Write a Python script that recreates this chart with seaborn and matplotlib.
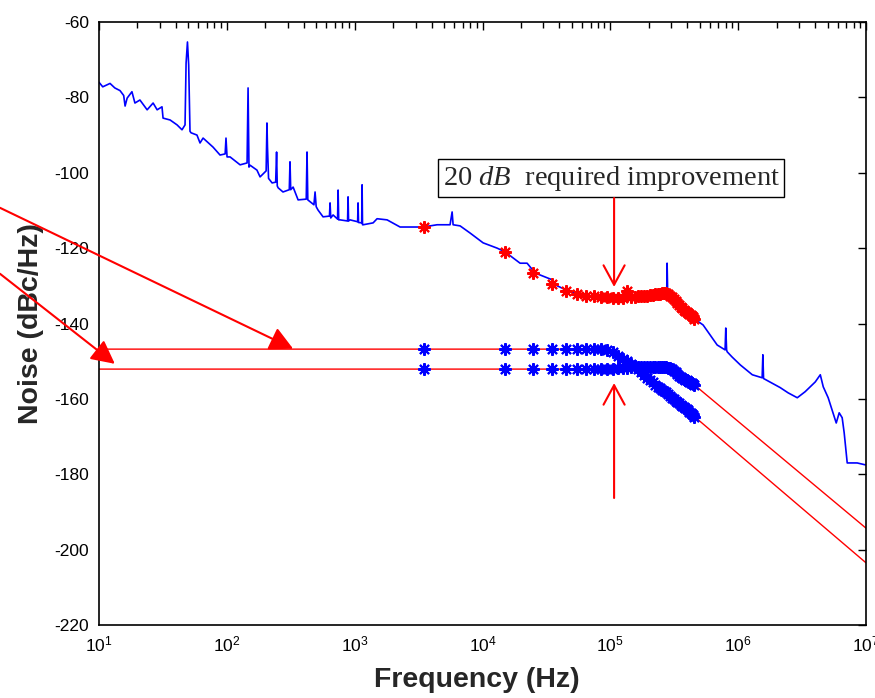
import numpy as np
import pandas as pd
import matplotlib
matplotlib.use("Agg")
import matplotlib.pyplot as plt
import seaborn as sns
from matplotlib.ticker import FuncFormatter, LogLocator, NullFormatter, FixedLocator

sns.set_theme(style="white")
plt.rcParams['font.family'] = ['Liberation Sans', 'DejaVu Sans']
plt.rcParams['axes.unicode_minus'] = False
plt.rcParams['mathtext.fontset'] = 'custom'
plt.rcParams['mathtext.it'] = 'Liberation Serif:italic'
plt.rcParams['mathtext.rm'] = 'Liberation Serif'

# ---------------- data ----------------
noise_freq = [10.0, 10.7, 12.2, 13.3, 14.6, 15.6, 16.0, 16.6, 18.1, 19.1, 20.9, 23.8, 26.5, 28.5,
              31.1, 31.7, 36.0, 40.8, 44.6, 47.1, 48.0, 49.2, 50.3, 51.5, 52.5, 58.4, 61.7, 65.2,
              78.0, 88.5, 97.0, 98.5, 100.4, 106, 127, 144, 146.6, 149, 152, 172, 182, 199, 203,
              206, 208, 212, 226, 241, 245, 248, 252, 275, 308, 312, 316, 330, 361, 418, 424, 430,
              480, 490, 500, 517, 566, 635, 642, 650, 678, 735, 742, 750, 769, 880, 888, 896, 920,
              1055, 1063, 1072, 1135, 1143, 1152, 1165, 1394, 1497, 1793, 2266, 2864, 3428, 4415,
              5575, 5785, 5890, 6680, 8000, 10110, 13010, 15030, 19680, 22330, 25800, 35080,
              38380, 48460, 61210, 83180, 113000, 137700, 150700, 204700, 258800, 276000,
              278000, 281000, 283000, 333000, 399000, 444500, 532000, 685000, 764000, 790000,
              800000, 812000, 820000, 897000, 1.04e6, 1.29e6, 1.54e6, 1.56e6, 1.58e6, 1.66e6,
              2.13e6, 2.46e6, 2.90e6, 3.34e6, 4.01e6, 4.39e6, 4.63e6, 5.06e6, 5.85e6, 6.17e6,
              6.51e6, 6.75e6, 7.13e6, 8.53e6, 9.86e6]
noise_db = [-76.0, -77.2, -76.3, -77.5, -78.2, -79.5, -82.3, -80.2, -78.5, -81.5, -80.7, -83.3,
            -81.5, -83.3, -82.5, -85.5, -86.0, -87.3, -88.6, -87.3, -70.9, -65.3, -71.4, -89.0,
            -89.4, -90.0, -92.1, -90.8, -93.2, -95.3, -95.0, -90.8, -95.8, -95.8, -97.9, -97.4,
            -77.5, -98.5, -98.0, -99.3, -101.1, -99.8, -99.5, -86.8, -93.2, -101.5, -102.7,
            -102.5, -94.5, -103.5, -104.0, -105.1, -104.5, -97.1, -104.5, -103.8, -107.2,
            -107.0, -94.5, -107.2, -108.5, -105.1, -109.0, -109.9, -111.7, -111.5, -108.0,
            -112.0, -111.2, -112.3, -104.6, -112.5, -112.5, -112.8, -106.4, -112.8, -112.5,
            -113.0, -108.0, -113.2, -113.3, -103.2, -113.8, -113.8, -113.3, -112.2, -112.5,
            -114.4, -114.4, -114.4, -113.8, -113.8, -110.4, -113.8, -114.1, -116.0, -118.6,
            -120.0, -121.0, -124.0, -124.0, -126.6, -128.4, -130.0, -131.6, -132.4, -133.0,
            -133.2, -131.8, -132.8, -132.7, -132.1, -132.0, -124.0, -132.0, -132.5, -134.3,
            -137.0, -138.5, -140.4, -145.7, -146.7, -147.0, -141.2, -147.0, -147.5, -148.9,
            -151.0, -153.6, -154.4, -148.3, -154.6, -155.0, -157.0, -158.4, -159.7, -158.1,
            -155.5, -153.6, -156.8, -159.7, -166.4, -163.7, -165.0, -169.0, -177.0, -177.0,
            -177.5]

star_freq_khz = [3.5, 15, 25, 35, 45, 55, 65, 75, 85, 95, 105, 115, 125, 135, 145, 155, 165,
                 175, 185, 195, 205, 215, 225, 235, 245, 255, 265, 275, 285, 295, 305, 315, 325,
                 335, 345, 355, 365, 375, 385, 395, 405, 415, 425, 435, 445, 455]
marked_db = [-114.4, -121.0, -126.5, -129.6, -131.5, -132.2, -132.6, -132.8, -133.0, -133.1,
             -133.2, -133.2, -133.2, -131.5, -133.0, -132.9, -132.8, -132.7, -132.6, -132.6,
             -132.5, -132.4, -132.3, -132.2, -132.1, -132.0, -132.0, -132.0, -132.2, -132.6,
             -133.1, -133.6, -134.1, -134.6, -135.1, -135.5, -135.9, -136.3, -136.6, -136.9,
             -137.2, -137.5, -137.8, -138.1, -138.4, -138.7]
target_a_db = [-146.8, -146.8, -146.8, -146.8, -146.8, -146.8, -146.8, -146.8, -146.8, -147.0,
               -147.6, -148.5, -149.3, -150.0, -150.7, -151.4, -152.2, -152.9, -153.7, -154.4,
               -155.0, -155.5, -156.2, -156.8, -157.2, -157.7, -158.0, -158.3, -158.7, -159.2,
               -159.7, -160.1, -160.5, -160.8, -161.1, -161.5, -161.8, -162.1, -162.4, -162.7,
               -163.0, -163.4, -163.8, -164.1, -164.4, -164.7]
target_b_db = [-152.1, -152.1, -152.1, -152.1, -152.1, -152.1, -152.1, -152.1, -152.1, -152.1,
               -152.0, -151.9, -151.8, -151.7, -151.6, -151.6, -151.6, -151.6, -151.6, -151.6,
               -151.6, -151.6, -151.6, -151.6, -151.6, -151.6, -151.6, -151.6, -151.7, -151.9,
               -152.2, -152.6, -153.0, -153.4, -153.8, -154.1, -154.4, -154.7, -154.9, -155.1,
               -155.3, -155.5, -155.7, -155.9, -156.1, -156.3]
line_end_freq = [10, 1e7]
target_a_ends = [-146.8, -203.5]
target_b_ends = [-152.1, -194.3]

x_ticks = [1e1, 1e2, 1e3, 1e4, 1e5, 1e6, 1e7]
y_ticks = [-220, -200, -180, -160, -140, -120, -100, -80, -60]

# ---------------- tables ----------------
star_freq = [f * 1000 for f in star_freq_khz]
noise = pd.DataFrame({"f": noise_freq, "db": noise_db})
marked = pd.DataFrame({"f": star_freq, "db": marked_db})
tgt_a = pd.DataFrame({"f": star_freq, "db": target_a_db})
tgt_b = pd.DataFrame({"f": star_freq, "db": target_b_db})
line_a = pd.DataFrame({"f": [line_end_freq[0]] + star_freq + [line_end_freq[1]],
                       "db": [target_a_ends[0]] + target_a_db + [target_a_ends[1]]})
line_b = pd.DataFrame({"f": [line_end_freq[0]] + star_freq + [line_end_freq[1]],
                       "db": [target_b_ends[0]] + target_b_db + [target_b_ends[1]]})

fig = plt.figure(figsize=(8.75, 6.98), dpi=100)
ax = fig.add_axes([99 / 875, 1 - 625 / 698, 767 / 875, 603 / 698])
ax.set_xscale("log")

star = (8, 2, 0)
sns.lineplot(data=line_a, x="f", y="db", ax=ax, sort=False, estimator=None,
             color="red", linewidth=1.0)
sns.lineplot(data=line_b, x="f", y="db", ax=ax, sort=False, estimator=None,
             color="red", linewidth=1.0)
for d in (tgt_a, tgt_b):
    sns.lineplot(data=d, x="f", y="db", ax=ax, sort=False, estimator=None,
                 linestyle="none", marker=star, markersize=9, markeredgewidth=1.5,
                 markeredgecolor="blue", color="blue")
sns.lineplot(data=noise, x="f", y="db", ax=ax, sort=False, estimator=None,
             color="blue", linewidth=1.2)
sns.lineplot(data=marked, x="f", y="db", ax=ax, sort=False, estimator=None,
             linestyle="none", marker=star, markersize=9, markeredgewidth=1.5,
             markeredgecolor="red", color="red")

ax.set_xlim(10, 1e7)
ax.set_ylim(-220, -60)
ax.xaxis.set_major_locator(FixedLocator(x_ticks))
ax.xaxis.set_minor_locator(LogLocator(base=10, subs=np.arange(2, 10), numticks=20))
ax.xaxis.set_minor_formatter(NullFormatter())
ax.xaxis.set_major_formatter(FuncFormatter(lambda v, p: r"$\mathregular{10^{%d}}$" % round(np.log10(v))))
ax.set_yticks(y_ticks)
ax.tick_params(which="both", direction="in", top=True, right=True, colors="black",
               labelsize=12.5, width=1)
ax.tick_params(which="major", length=6, pad=7)
ax.tick_params(which="minor", length=4)
for s in ax.spines.values():
    s.set_color("black")
    s.set_linewidth(1.2)

ax.set_xlabel("Frequency (Hz)", fontsize=20.5, fontweight="bold")
ax.set_ylabel("Noise (dBc/Hz)", fontsize=20.5, fontweight="bold")
ax.xaxis.set_label_coords(0.493, -0.07)
ax.yaxis.set_label_coords(-0.072, 0.50)

# annotations
ax.text(1.02e5, -101.4, r"20 $\mathit{dB}$  required improvement", fontsize=20.5,
        family="Liberation Serif", ha="center", va="center",
        bbox=dict(boxstyle="square,pad=0.15", fc="white", ec="black", lw=1.0))
ax.annotate("", xy=(1.07e5, -130.3), xytext=(1.07e5, -106.7),
            arrowprops=dict(arrowstyle="->,head_length=0.7,head_width=0.38",
                            color="red", lw=1.5, mutation_scale=20, shrinkA=0, shrinkB=0))
ax.annotate("", xy=(1.07e5, -155.8), xytext=(1.07e5, -186.3),
            arrowprops=dict(arrowstyle="->,head_length=0.7,head_width=0.38",
                            color="red", lw=1.5, mutation_scale=20, shrinkA=0, shrinkB=0))
ax.annotate("", xy=(330, -146.7), xytext=(1.68, -109.3), annotation_clip=False,
            arrowprops=dict(arrowstyle="-|>,head_length=0.55,head_width=0.28",
                            color="red", lw=1.5, mutation_scale=26, shrinkA=0, shrinkB=0))
ax.annotate("", xy=(13.3, -150.7), xytext=(1.68, -126.8), annotation_clip=False,
            arrowprops=dict(arrowstyle="-|>,head_length=0.55,head_width=0.28",
                            color="red", lw=1.5, mutation_scale=26, shrinkA=0, shrinkB=0))

fig.savefig("out.png", dpi=100, facecolor="white")
